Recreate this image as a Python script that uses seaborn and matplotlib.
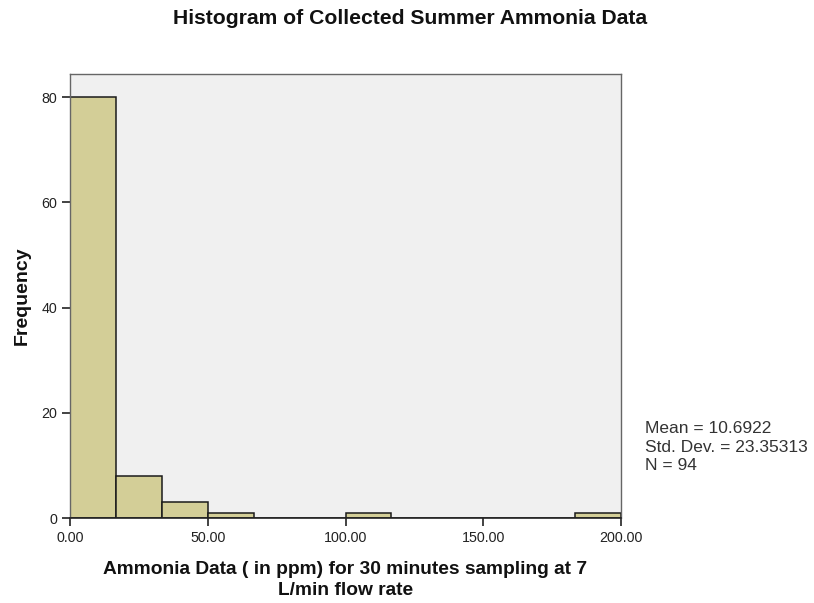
import numpy as np
import matplotlib
matplotlib.use("Agg")
import matplotlib.pyplot as plt
import seaborn as sns

# Histogram bins (ppm) and counts per bin
bin_edges = [0.0, 16.6667, 33.3333, 50.0, 66.6667, 83.3333, 100.0,
             116.6667, 133.3333, 150.0, 166.6667, 183.3333, 200.0]
counts = [80, 8, 3, 1, 0, 0, 1, 0, 0, 0, 0, 1]
x_ticks = [0, 50, 100, 150, 200]
x_tick_labels = ["0.00", "50.00", "100.00", "150.00", "200.00"]
y_ticks = [0, 20, 40, 60, 80]
stats_lines = ["Mean = 10.6922", "Std. Dev. = 23.35313", "N = 94"]

sns.set_style("white")
plt.rcParams["font.family"] = ["Liberation Sans", "DejaVu Sans"]

W, H = 814, 603
fig = plt.figure(figsize=(W / 100, H / 100), dpi=100)
ax = fig.add_axes([70 / W, (H - 518) / H, 551 / W, 444 / H])
ax.set_facecolor("#F0F0F0")

centers = [(a + b) / 2 for a, b in zip(bin_edges[:-1], bin_edges[1:])]
sns.histplot(x=centers, weights=counts, bins=bin_edges, ax=ax,
             color="#D3CE97", alpha=1.0, edgecolor="#1a1a1a", linewidth=1.1)

ax.set_xlim(0, 200)
ax.set_ylim(0, 84.4)
ax.set_xticks(x_ticks)
ax.set_xticklabels(x_tick_labels)
ax.set_yticks(y_ticks)
ax.tick_params(axis="both", direction="out", length=6, width=1.2,
               color="#222222", labelsize=10.3, labelcolor="#222222", pad=3)
ax.tick_params(left=True, bottom=True)

for side in ["left", "top", "right"]:
    ax.spines[side].set_color("#666666")
    ax.spines[side].set_linewidth(1.0)
ax.spines["bottom"].set_color("#222222")
ax.spines["bottom"].set_linewidth(1.2)

ax.set_xlabel("Ammonia Data ( in ppm) for 30 minutes sampling at 7\nL/min flow rate",
              fontsize=13.8, fontweight="bold", color="#111111",
              linespacing=1.3, labelpad=12)
ax.set_ylabel("Frequency", fontsize=14, fontweight="bold", color="#111111",
              labelpad=8)

fig.text(410 / W, 1 - 18 / H, "Histogram of Collected Summer Ammonia Data",
         ha="center", va="center", fontsize=15.2, fontweight="bold",
         color="#111111")

fig.text(645 / W, 1 - 447 / H, "\n".join(stats_lines), ha="left", va="center",
         fontsize=12.5, color="#333333", linespacing=1.3)

fig.savefig("out.png", dpi=100)
